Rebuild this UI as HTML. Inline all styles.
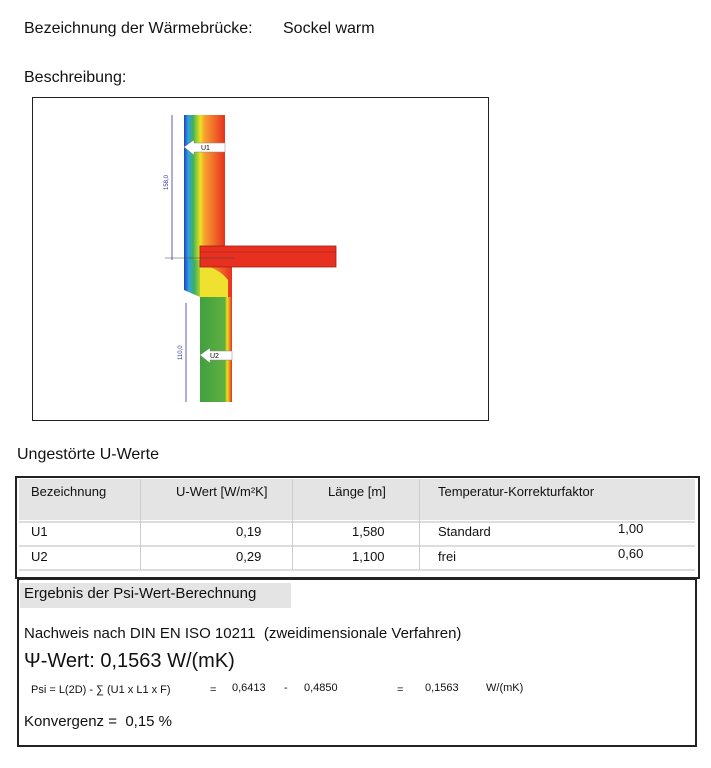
<!DOCTYPE html>
<html><head><meta charset="utf-8"><style>
body{margin:0;width:711px;height:768px;background:#fff;font-family:"Liberation Sans",sans-serif;color:#111;position:relative;overflow:hidden}
.a{position:absolute;white-space:nowrap}
</style></head><body>
<div class="a" style="left:24px;top:20px;font-size:16px">Bezeichnung der Wärmebrücke:</div>
<div class="a" style="left:283px;top:20px;font-size:16px">Sockel warm</div>
<div class="a" style="left:24px;top:69px;font-size:16px">Beschreibung:</div>
<div class="a" style="left:32px;top:97px;width:455px;height:322px;border:1.5px solid #222"></div>
<svg class="a" style="left:0;top:0" width="711" height="440">
<defs>
<linearGradient id="w" x1="0" x2="1"><stop offset="0" stop-color="#2040c0"/><stop offset=".1" stop-color="#30a0e0"/><stop offset=".22" stop-color="#40b060"/><stop offset=".32" stop-color="#a0d030"/><stop offset=".4" stop-color="#f0e020"/><stop offset=".5" stop-color="#f7a030"/><stop offset="1" stop-color="#e83020"/></linearGradient>
<linearGradient id="l" x1="0" x2="1"><stop offset="0" stop-color="#40a040"/><stop offset=".78" stop-color="#60b040"/><stop offset=".85" stop-color="#f0e020"/><stop offset=".92" stop-color="#f09020"/><stop offset="1" stop-color="#e03020"/></linearGradient>
</defs>
<rect x="184" y="115" width="41" height="145" fill="url(#w)"/>
<path d="M184 260 H225 V267 H232 V297 H200 L184 290 Z" fill="url(#w)"/>
<path d="M200 262 C215 270 220 270 228 280 L228 300 L200 300 Z" fill="#f0e030"/>
<rect x="200" y="297" width="32" height="105" fill="url(#l)"/>
<rect x="200" y="246" width="136" height="21" fill="#e83020" stroke="#a02010" stroke-width=".8"/>
<line x1="200" y1="252" x2="336" y2="252" stroke="#a02010" stroke-width=".6"/>
<line x1="172" y1="115" x2="172" y2="260" stroke="#33a" stroke-width=".8"/>
<line x1="186" y1="303" x2="186" y2="402" stroke="#33a" stroke-width=".8"/>
<line x1="165" y1="258" x2="235" y2="258" stroke="#444" stroke-width=".6"/>
<text x="168" y="190" font-size="6" fill="#33a" transform="rotate(-90 168 190)">158,0</text>
<text x="182" y="360" font-size="6" fill="#33a" transform="rotate(-90 182 360)">110,0</text>
<path d="M184 147 L194 140 V143 H225 V152 H194 V155 Z" fill="#fff" stroke="#888" stroke-width=".5"/>
<text x="201" y="150" font-size="7">U1</text>
<path d="M200 355 L210 348 V351 H232 V360 H210 V363 Z" fill="#fff" stroke="#888" stroke-width=".5"/>
<text x="210" y="358" font-size="7">U2</text>
</svg>
<div class="a" style="left:17px;top:446px;font-size:16px">Ungestörte U-Werte</div>
<div class="a" style="left:15px;top:476px;width:681px;height:99px;border:2px solid #222"></div>
<div class="a" style="left:19px;top:479px;width:676px;height:41px;background:#e4e4e4"></div>
<div class="a" style="left:19px;top:521px;width:676px;height:2px;background:#ddd"></div>
<div class="a" style="left:19px;top:545px;width:676px;height:2px;background:#ddd"></div>
<div class="a" style="left:19px;top:569px;width:676px;height:2px;background:#ddd"></div>
<div class="a" style="left:140px;top:479px;width:1px;height:90px;background:#ccc"></div>
<div class="a" style="left:292px;top:479px;width:1px;height:90px;background:#ccc"></div>
<div class="a" style="left:419px;top:479px;width:1px;height:90px;background:#ccc"></div>
<div class="a" style="left:31px;top:484px;font-size:13px">Bezeichnung</div>
<div class="a" style="left:176px;top:484px;font-size:13px">U-Wert [W/m²K]</div>
<div class="a" style="left:328px;top:484px;font-size:13px">Länge [m]</div>
<div class="a" style="left:438px;top:484px;font-size:13px">Temperatur-Korrekturfaktor</div>
<div class="a" style="left:31px;top:524px;font-size:13px">U1</div>
<div class="a" style="left:236px;top:524px;font-size:13px">0,19</div>
<div class="a" style="left:352px;top:524px;font-size:13px">1,580</div>
<div class="a" style="left:438px;top:524px;font-size:13px">Standard</div>
<div class="a" style="left:618px;top:521px;font-size:13px">1,00</div>
<div class="a" style="left:31px;top:549px;font-size:13px">U2</div>
<div class="a" style="left:236px;top:549px;font-size:13px">0,29</div>
<div class="a" style="left:352px;top:549px;font-size:13px">1,100</div>
<div class="a" style="left:438px;top:549px;font-size:13px">frei</div>
<div class="a" style="left:618px;top:546px;font-size:13px">0,60</div>
<div class="a" style="left:17px;top:578px;width:676px;height:165px;border:2px solid #222"></div>
<div class="a" style="left:20px;top:583px;width:271px;height:25px;background:#e4e4e4"></div>
<div class="a" style="left:24px;top:585px;font-size:15px">Ergebnis der Psi-Wert-Berechnung</div>
<div class="a" style="left:24px;top:625px;font-size:15px">Nachweis nach DIN EN ISO 10211&nbsp; (zweidimensionale Verfahren)</div>
<div class="a" style="left:24px;top:650px;font-size:20px">Ψ-Wert: 0,1563 W/(mK)</div>
<div class="a" style="left:31px;top:684px;font-size:11px">Psi = L(2D) - ∑ (U1 x L1 x F)</div>
<div class="a" style="left:210px;top:684px;font-size:11px">=</div>
<div class="a" style="left:232px;top:682px;font-size:11px">0,6413</div>
<div class="a" style="left:284px;top:682px;font-size:11px">-</div>
<div class="a" style="left:304px;top:682px;font-size:11px">0,4850</div>
<div class="a" style="left:397px;top:684px;font-size:11px">=</div>
<div class="a" style="left:425px;top:682px;font-size:11px">0,1563</div>
<div class="a" style="left:486px;top:682px;font-size:11px">W/(mK)</div>
<div class="a" style="left:24px;top:713px;font-size:15px">Konvergenz =&nbsp; 0,15 %</div>
</body></html>
